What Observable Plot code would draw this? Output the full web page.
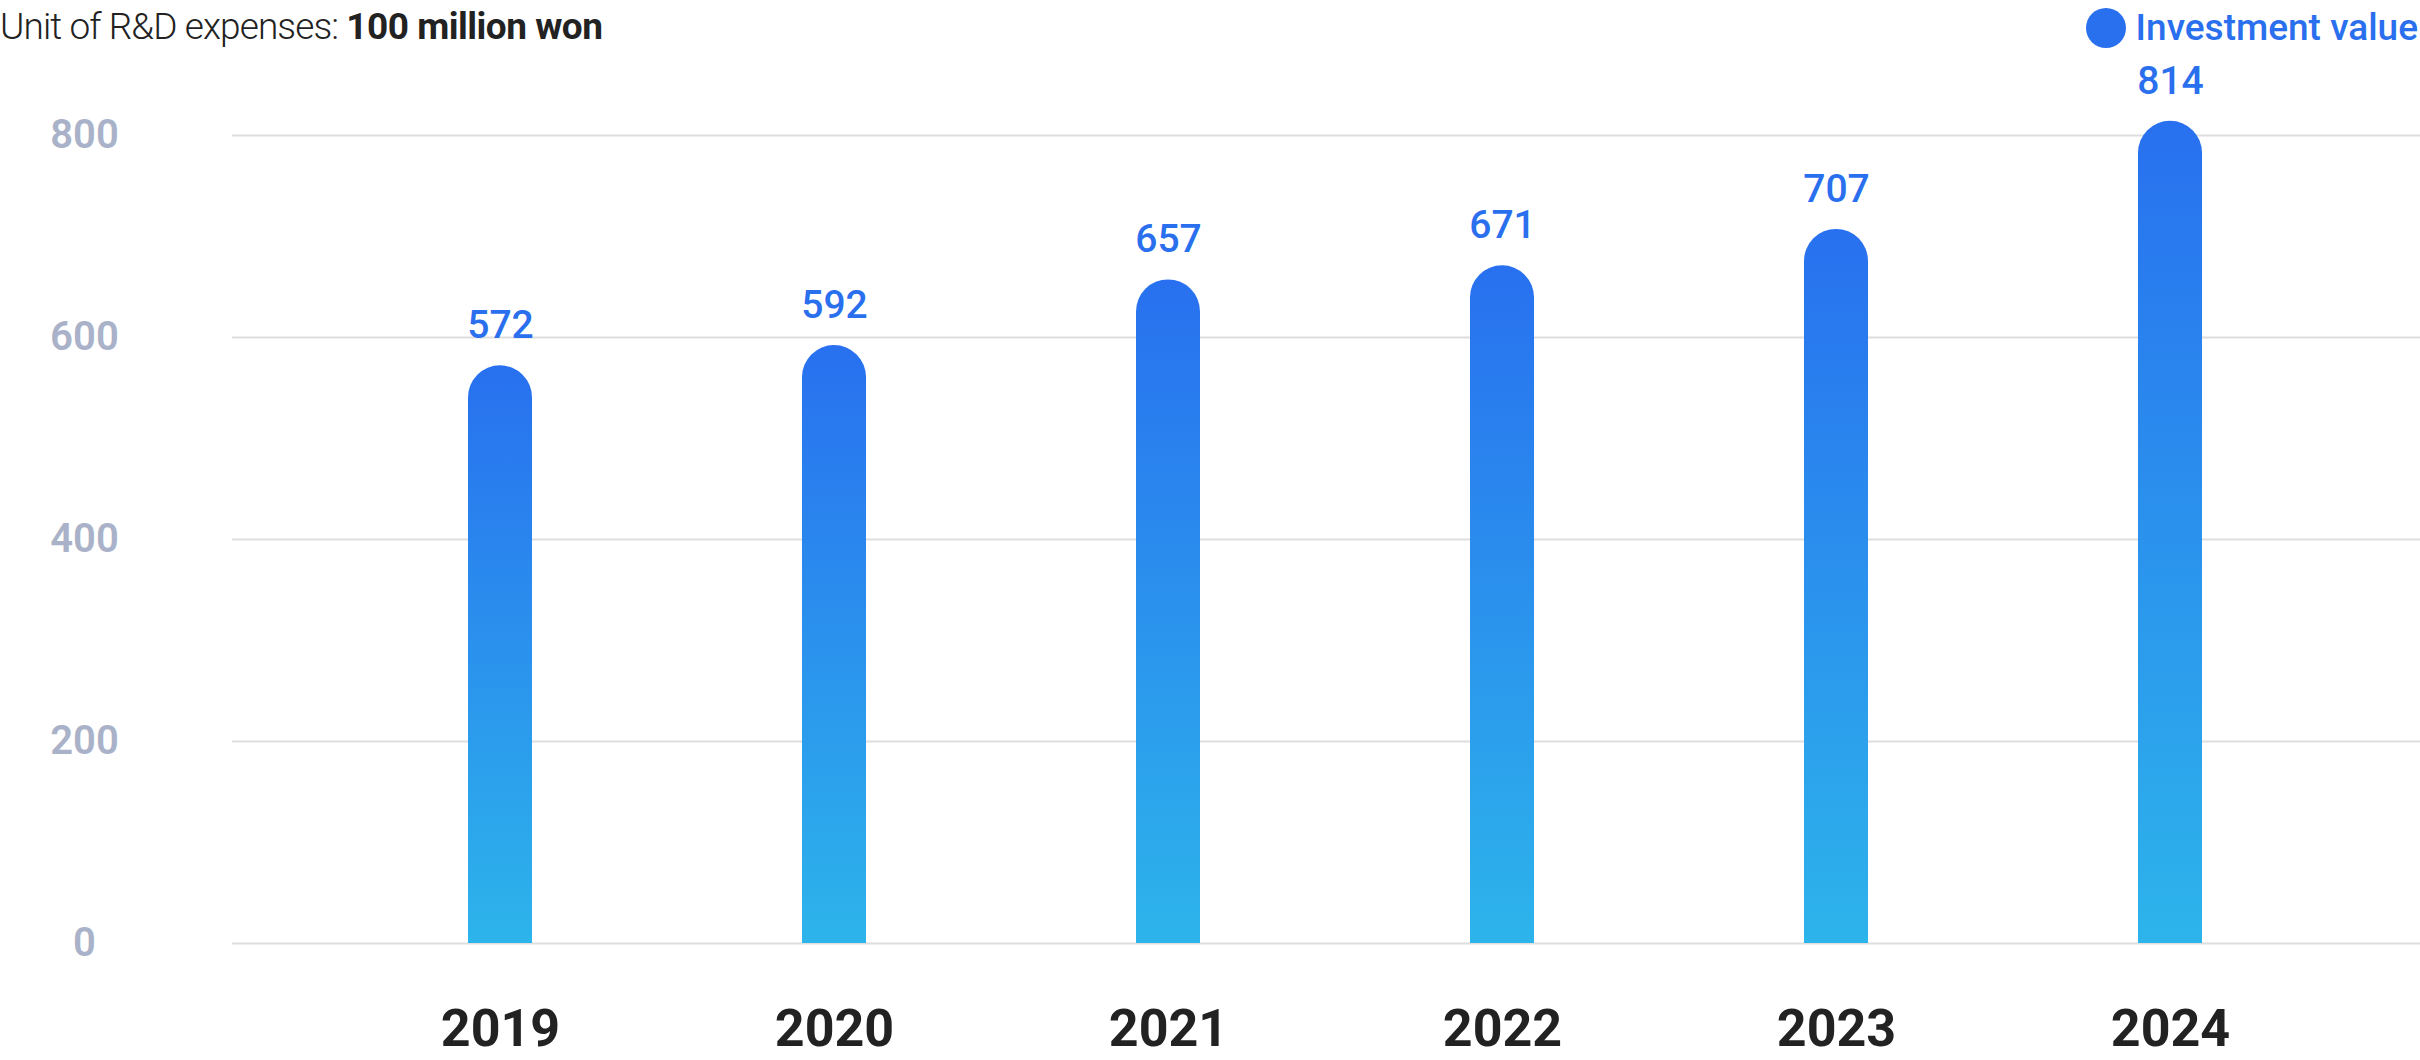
<!DOCTYPE html>
<html>
<head>
<meta charset="utf-8">
<script src="https://cdn.jsdelivr.net/npm/d3@7"></script>
<script src="https://cdn.jsdelivr.net/npm/@observablehq/plot@0.6"></script>
<style>
  html, body { margin: 0; padding: 0; background: #fff; }
  body { width: 2420px; height: 1060px; position: relative; overflow: hidden; font-family: Roboto, "Noto Sans", sans-serif; }
  #header { position: relative; height: 60px; }
  #title { position: absolute; left: 0; top: 0; line-height: 54px; font-size: 37px; color: #222; letter-spacing: -0.9px; font-weight: 300; white-space: nowrap; }
  #title b { font-weight: 700; letter-spacing: -0.5px; }
  #legend { position: absolute; right: 2px; top: 0; line-height: 56px; font-size: 37px; color: #2a6fee; font-weight: 500; white-space: nowrap; display: flex; align-items: center; }
  #legend .dot { width: 40px; height: 40px; border-radius: 50%; background: #2970ef; margin-right: 10px; }
  #chart svg { display: block; }
</style>
</head>
<body>
<div id="header">
  <div id="title">Unit of R&amp;D expenses: <b>100 million won</b></div>
  <div id="legend"><span class="dot"></span>Investment value</div>
</div>
<div id="chart"></div>
<script>
const years = ["2019", "2020", "2021", "2022", "2023", "2024"];
const investment = [572, 592, 657, 671, 707, 814];
const yTicks = [0, 200, 400, 600, 800];

const data = years.map((year, i) => ({year, value: investment[i]}));

const gradientDefs = () => {
  const ns = "http://www.w3.org/2000/svg";
  const defs = document.createElementNS(ns, "defs");
  const lg = document.createElementNS(ns, "linearGradient");
  lg.setAttribute("id", "barGradient");
  lg.setAttribute("x1", "0"); lg.setAttribute("y1", "0");
  lg.setAttribute("x2", "0"); lg.setAttribute("y2", "1");
  [["0%", "#2870ef"], ["100%", "#2db4eb"]].forEach(([o, c]) => {
    const s = document.createElementNS(ns, "stop");
    s.setAttribute("offset", o);
    s.setAttribute("stop-color", c);
    lg.appendChild(s);
  });
  defs.appendChild(lg);
  return defs;
};

const chart = Plot.plot({
  width: 2420,
  height: 1000,
  marginTop: 75,
  marginBottom: 117,
  marginLeft: 232,
  marginRight: 0,
  style: {fontFamily: "Roboto, 'Noto Sans', sans-serif", background: "#fff", overflow: "visible"},
  x: {type: "band", domain: years, paddingInner: 0.809, paddingOuter: 0.675, align: 0.52, label: null},
  y: {domain: [0, 800], label: null},
  marks: [
    gradientDefs,
    Plot.ruleY(yTicks, {stroke: "#dedede", strokeWidth: 2}),
    Plot.barY(data, {x: "year", y: "value", fill: "url(#barGradient)", inset: 0, ry1: 32}),
    Plot.text(data, {x: "year", y: "value", text: d => String(d.value), dy: -40, lineAnchor: "middle", fill: "#2a6fee", fontSize: 39, fontWeight: 500}),
    Plot.axisY({ticks: yTicks, tickSize: 0, tickPadding: 148, textAnchor: "middle", fontSize: 40, fontWeight: 600, fill: "#a9b2c8", label: null}),
    Plot.axisX({tickSize: 0, tickPadding: 66, fontSize: 52, fontWeight: 700, fill: "#222", label: null})
  ]
});
document.getElementById("chart").appendChild(chart);
</script>
</body>
</html>
